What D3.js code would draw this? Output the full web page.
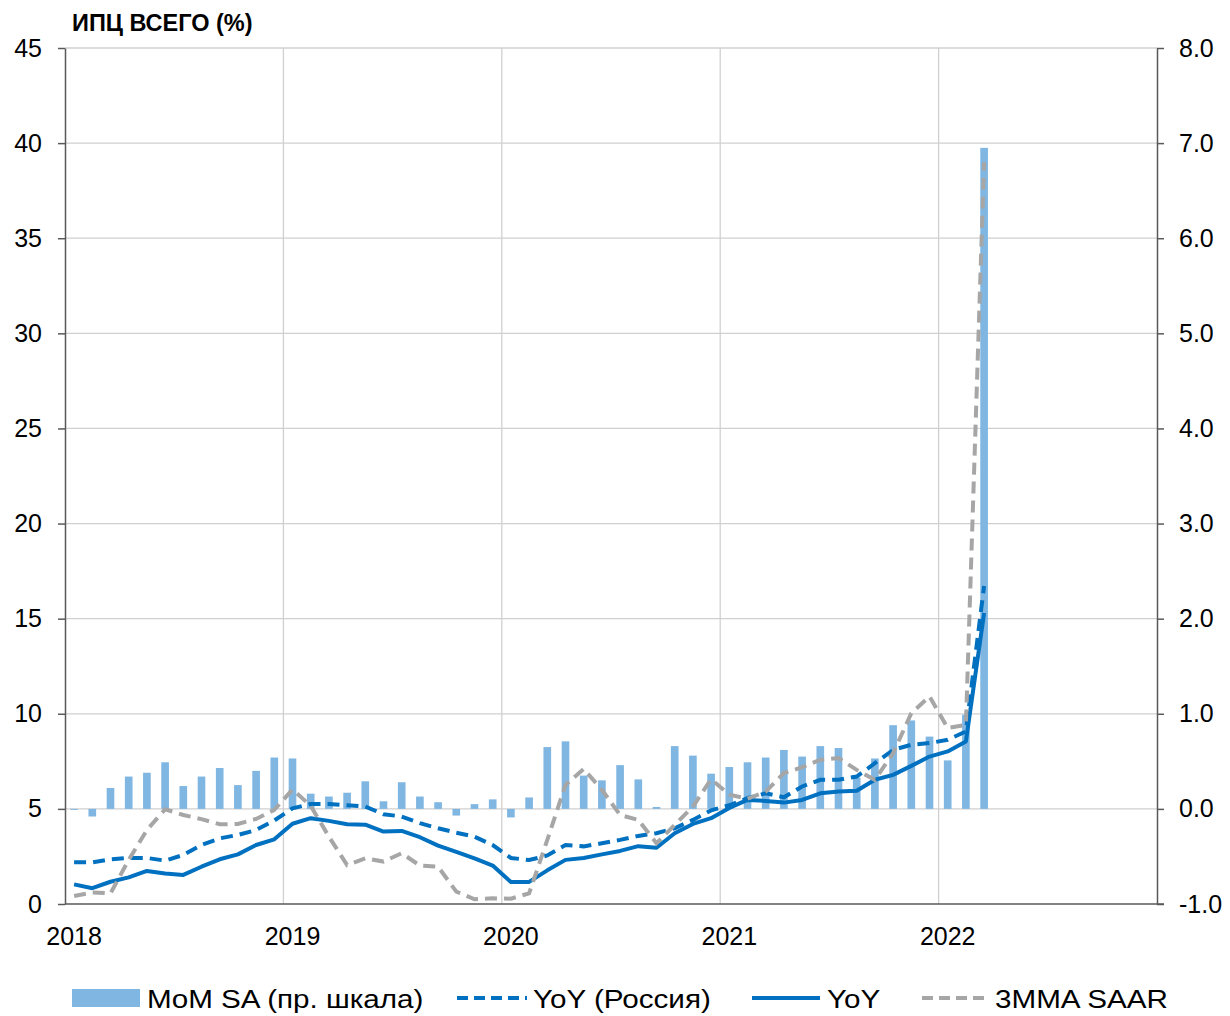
<!DOCTYPE html>
<html>
<head>
<meta charset="utf-8">
<script src="https://cdn.jsdelivr.net/npm/d3@7/dist/d3.min.js"></script>
<style>
  html, body { margin: 0; padding: 0; background: #fff; }
  svg { display: block; font-family: "Liberation Sans", Arial, sans-serif; }
</style>
</head>
<body>
<svg id="chart" width="1230" height="1016"></svg>
<script>
// Monthly CPI series, Jan 2018 – Mar 2022
const momSA = [
  -0.01, -0.08, 0.22, 0.34, 0.38, 0.49, 0.24, 0.34, 0.43, 0.25, 0.40, 0.54,
  0.53, 0.16, 0.13, 0.17, 0.29, 0.08, 0.28, 0.13, 0.07, -0.07, 0.05, 0.10,
  -0.09, 0.12, 0.65, 0.71, 0.35, 0.30, 0.46, 0.31, 0.02, 0.66, 0.56, 0.37,
  0.44, 0.49, 0.54, 0.62, 0.55, 0.66, 0.64, 0.33, 0.53, 0.88, 0.93, 0.76,
  0.51, 0.99, 6.95
];
const yoyRussia = [
  2.19, 2.19, 2.35, 2.42, 2.42, 2.28, 2.58, 3.10, 3.45, 3.63, 3.89, 4.39,
  5.03, 5.26, 5.26, 5.19, 5.12, 4.72, 4.60, 4.25, 3.98, 3.75, 3.54, 3.10,
  2.42, 2.31, 2.55, 3.10, 3.03, 3.19, 3.37, 3.58, 3.72, 3.98, 4.42, 4.92,
  5.19, 5.56, 5.82, 5.61, 6.18, 6.53, 6.53, 6.70, 7.40, 8.10, 8.37, 8.46,
  8.63, 9.07, 16.72
];
const yoy = [
  1.03, 0.83, 1.17, 1.40, 1.74, 1.60, 1.53, 1.96, 2.35, 2.61, 3.10, 3.40,
  4.22, 4.51, 4.37, 4.19, 4.17, 3.81, 3.84, 3.51, 3.07, 2.74, 2.40, 2.02,
  1.16, 1.16, 1.77, 2.32, 2.42, 2.61, 2.79, 3.04, 2.96, 3.72, 4.21, 4.51,
  5.05, 5.47, 5.42, 5.33, 5.47, 5.82, 5.91, 5.95, 6.53, 6.79, 7.26, 7.75,
  8.02, 8.54, 15.3
];
const mma3Saar = [
  0.42, 0.61, 0.56, 2.32, 3.89, 4.98, 4.68, 4.46, 4.19, 4.21, 4.47, 4.95,
  6.02, 5.16, 3.54, 2.05, 2.40, 2.23, 2.67, 2.02, 1.96, 0.65, 0.25, 0.30,
  0.28, 0.56, 3.37, 6.26, 7.10, 6.00, 4.68, 4.42, 3.19, 4.16, 5.12, 6.56,
  5.75, 5.53, 5.91, 6.88, 7.19, 7.58, 7.67, 7.05, 6.53, 7.93, 10.03, 10.91,
  9.25, 9.42, 39.0
];
const leftTicks = [0, 5, 10, 15, 20, 25, 30, 35, 40, 45];
const rightTicks = [-1, 0, 1, 2, 3, 4, 5, 6, 7, 8];
const yearLabels = ["2018", "2019", "2020", "2021", "2022"];
const title = "ИПЦ ВСЕГО (%)";
const legendLabels = ["MoM SA (пр. шкала)", "YoY (Россия)", "YoY", "3MMA SAAR"];

const colors = { bar: "#7fb6e2", blue: "#0070c0", gray: "#a6a6a6", axis: "#595959", grid: "#d0d0d0" };

const svg = d3.select("#chart");
const plotLeft = 65, plotRight = 1157, plotTop = 48, plotBottom = 904;

// monthly bands across 2018–2022
const months = d3.timeMonth.range(new Date(2018, 0, 1), new Date(2023, 0, 1));
const x = d3.scaleBand().domain(months.map(d => +d)).range([plotLeft, plotRight]).padding(0);
const bw = x.bandwidth();
const cx = i => x(+months[i]) + bw / 2;

const yL = d3.scaleLinear().domain([0, 45]).range([plotBottom, plotTop]);
const yR = d3.scaleLinear().domain([-1, 8]).range([plotBottom, plotTop]);

// gridlines
const grid = svg.append("g");
grid.selectAll("line.h").data(leftTicks.filter(t => t > 0)).join("line")
  .attr("x1", plotLeft).attr("x2", plotRight)
  .attr("y1", d => yL(d)).attr("y2", d => yL(d))
  .attr("stroke", colors.grid).attr("stroke-width", 1.3);
const yearStarts = yearLabels.slice(1).map(y => +new Date(+y, 0, 1));
grid.selectAll("line.v").data(yearStarts).join("line")
  .attr("x1", d => x(d)).attr("x2", d => x(d))
  .attr("y1", plotTop).attr("y2", plotBottom)
  .attr("stroke", colors.grid).attr("stroke-width", 1.3);

// bars on the right scale
svg.append("g").selectAll("rect").data(momSA).join("rect")
  .attr("x", (d, i) => cx(i) - bw * 0.21)
  .attr("width", bw * 0.42)
  .attr("y", d => Math.min(yR(d), yR(0)))
  .attr("height", d => Math.abs(yR(d) - yR(0)))
  .attr("fill", colors.bar);

// lines on the left scale
const line = d3.line().x((d, i) => cx(i)).y(d => yL(d));
svg.append("path").datum(yoyRussia).attr("d", line)
  .attr("fill", "none").attr("stroke", colors.blue).attr("stroke-width", 4)
  .attr("stroke-dasharray", "12,7");
svg.append("path").datum(yoy).attr("d", line)
  .attr("fill", "none").attr("stroke", colors.blue).attr("stroke-width", 4)
  .attr("stroke-linejoin", "round");
svg.append("path").datum(mma3Saar).attr("d", line)
  .attr("fill", "none").attr("stroke", colors.gray).attr("stroke-width", 4)
  .attr("stroke-dasharray", "12,7");

// axes
function styleAxis(g) {
  g.select(".domain").attr("stroke", colors.axis).attr("stroke-width", 1.5);
  g.selectAll(".tick line").attr("stroke", colors.axis).attr("stroke-width", 1.5);
  g.selectAll("text").attr("fill", "#000").style("font-size", "25px")
    .style("font-family", '"Liberation Sans", Arial, sans-serif');
}
const fmtRight = v => d3.format(".1f")(v).replace("\u2212", "-");
svg.append("g").attr("transform", `translate(${plotLeft},0)`)
  .call(d3.axisLeft(yL).tickValues(leftTicks).tickFormat(d3.format("d"))
    .tickSize(7).tickSizeOuter(0).tickPadding(16))
  .call(styleAxis);
svg.append("g").attr("transform", `translate(${plotRight},0)`)
  .call(d3.axisRight(yR).tickValues(rightTicks).tickFormat(fmtRight)
    .tickSize(7).tickSizeOuter(0).tickPadding(15))
  .call(styleAxis);
const xAxis = svg.append("g").attr("transform", `translate(0,${plotBottom})`)
  .call(d3.axisBottom(x).tickValues(yearLabels.map(y => +new Date(+y, 0, 1)))
    .tickFormat(d => String(new Date(d).getFullYear()))
    .tickSize(0).tickSizeOuter(0).tickPadding(23))
  .call(styleAxis);
xAxis.select(".domain").attr("d", `M${plotLeft},0H${plotRight + 7}`);

// title
svg.append("text").attr("x", 72).attr("y", 31)
  .style("font-size", "23.5px").style("font-weight", "bold").text(title);

// legend
const legendX = [72, 457, 752, 922];
const legendY = 998;
const lg = svg.append("g");
lg.append("rect").attr("x", legendX[0]).attr("y", legendY - 9).attr("width", 68).attr("height", 18)
  .attr("fill", colors.bar);
lg.append("line").attr("x1", legendX[1]).attr("x2", legendX[1] + 70)
  .attr("y1", legendY).attr("y2", legendY)
  .attr("stroke", colors.blue).attr("stroke-width", 4).attr("stroke-dasharray", "11,6");
lg.append("line").attr("x1", legendX[2]).attr("x2", legendX[2] + 68)
  .attr("y1", legendY).attr("y2", legendY)
  .attr("stroke", colors.blue).attr("stroke-width", 4);
lg.append("line").attr("x1", legendX[3]).attr("x2", legendX[3] + 68)
  .attr("y1", legendY).attr("y2", legendY)
  .attr("stroke", colors.gray).attr("stroke-width", 4).attr("stroke-dasharray", "11,6");
const textOffsets = [75, 76, 75, 73];
lg.selectAll("text").data(legendLabels).join("text")
  .attr("transform", (d, i) => `translate(${legendX[i] + textOffsets[i]},${legendY + 10}) scale(1.14,1)`)
  .style("font-size", "26px")
  .text(d => d);
</script>
</body>
</html>
